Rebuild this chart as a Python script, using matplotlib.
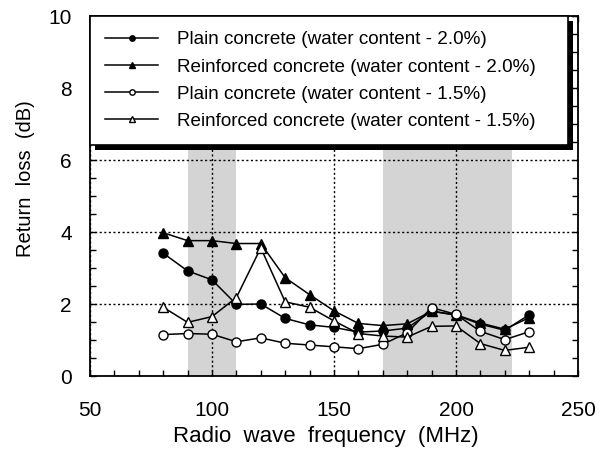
import matplotlib
matplotlib.use("Agg")
import matplotlib.pyplot as plt
from matplotlib.patches import Rectangle
from matplotlib.transforms import IdentityTransform
from matplotlib.ticker import MultipleLocator

freq = [80, 90, 100, 110, 120, 130, 140, 150, 160, 170, 180, 190, 200, 210, 220, 230]
plain_20 = [3.41, 2.92, 2.67, 1.99, 2.00, 1.60, 1.42, 1.35, 1.22, 1.25, 1.33, 1.80, 1.69, 1.44, 1.27, 1.70]
reinf_20 = [3.98, 3.76, 3.76, 3.68, 3.68, 2.73, 2.26, 1.81, 1.46, 1.40, 1.45, 1.80, 1.70, 1.47, 1.30, 1.62]
plain_15 = [1.15, 1.18, 1.16, 0.95, 1.06, 0.91, 0.86, 0.81, 0.76, 0.88, 1.20, 1.90, 1.71, 1.24, 1.01, 1.23]
reinf_15 = [1.91, 1.49, 1.65, 2.18, 3.56, 2.06, 1.91, 1.53, 1.18, 1.11, 1.08, 1.38, 1.39, 0.90, 0.71, 0.80]
labels = ["Plain concrete (water content - 2.0%)",
          "Reinforced concrete (water content - 2.0%)",
          "Plain concrete (water content - 1.5%)",
          "Reinforced concrete (water content - 1.5%)"]
bands = [(90, 110), (170, 223)]

plt.rcParams['font.family'] = ['Liberation Sans', 'DejaVu Sans']

fig = plt.figure(figsize=(6.06, 4.49), dpi=100)
W, H = 606, 449
ax = fig.add_axes([90 / W, 1 - 376 / H, 488 / W, 360 / H])

for a, b in bands:
    ax.axvspan(a, b, facecolor='#d4d4d4', edgecolor='none', zorder=0)

ax.grid(True, which='major', color='black', linestyle=(0, (1.5, 1.8)), linewidth=1.0, zorder=1)
ax.set_axisbelow(False)

kw = dict(color='black', linewidth=1.1, markersize=6.5, markeredgewidth=1.0, zorder=3)
ax.plot(freq, plain_20, marker='o', markerfacecolor='black', label=labels[0], **kw)
ax.plot(freq, reinf_20, marker='^', markerfacecolor='black', label=labels[1], **kw)
ax.plot(freq, plain_15, marker='o', markerfacecolor='white', label=labels[2], **kw)
ax.plot(freq, reinf_15, marker='^', markerfacecolor='white', label=labels[3], **kw)

ax.set_xlim(50, 250)
ax.set_ylim(0, 10)
ax.xaxis.set_major_locator(MultipleLocator(50))
ax.xaxis.set_minor_locator(MultipleLocator(10))
ax.yaxis.set_major_locator(MultipleLocator(2))
ax.yaxis.set_minor_locator(MultipleLocator(0.5))
ax.tick_params(which='both', direction='in', top=True, right=True, length=4.5, width=1.0)
ax.tick_params(axis='x', which='major', labelsize=15, pad=18)
ax.tick_params(axis='y', which='major', labelsize=15, pad=13)
for s in ax.spines.values():
    s.set_linewidth(1.3)

ax.set_xlabel("Radio  wave  frequency  (MHz)", fontsize=16)
ax.set_ylabel("Return  loss  (dB)", fontsize=14.5)
ax.xaxis.set_label_coords((326 - 90) / 488, (376 - 426) / 360)
ax.yaxis.set_label_coords((35 - 90) / 488, (376 - 179) / 360)

leg = ax.legend(loc='upper left', bbox_to_anchor=(0.0, 0.0, 478 / 488, 1.0), mode='expand',
                borderaxespad=0.0, fontsize=13.6, handlelength=2.8, handletextpad=1.0,
                labelspacing=0.53, borderpad=0.8, markerscale=0.6, fancybox=False,
                framealpha=1.0, edgecolor='black')
leg.get_frame().set_linewidth(1.2)
leg.set_zorder(6)

fig.canvas.draw()
bb = leg.get_window_extent()
shadow = Rectangle((bb.x0 + 5, bb.y0 - 5), bb.width, bb.height, transform=IdentityTransform(),
                   facecolor='black', edgecolor='none', zorder=5.9, clip_on=False)
ax.add_patch(shadow)
ax.set_xlim(50, 250)
ax.set_ylim(0, 10)

fig.savefig("out.png", dpi=100)
